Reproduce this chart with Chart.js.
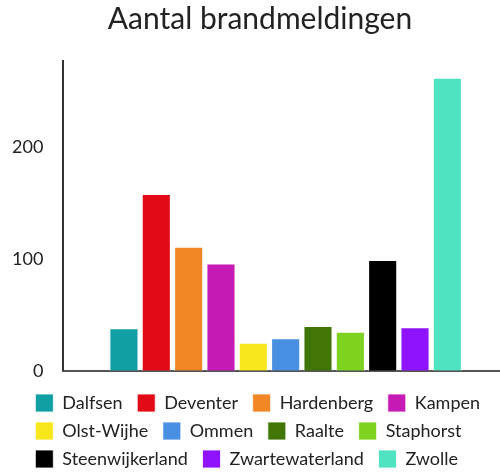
<!DOCTYPE html>
<html>
<head>
<meta charset="utf-8">
<script src="https://cdn.jsdelivr.net/npm/chart.js@4/dist/chart.umd.min.js"></script>
<style>
html,body{margin:0;padding:0;background:#fff;overflow:hidden;}
#wrap{width:520px;height:473px;position:relative;}
</style>
</head>
<body>
<div id="wrap"><canvas id="c"></canvas></div>
<script>
const titleText = "Aantal brandmeldingen";
const gemeenten = ["Dalfsen","Deventer","Hardenberg","Kampen","Olst-Wijhe","Ommen","Raalte","Staphorst","Steenwijkerland","Zwartewaterland","Zwolle"];
const meldingen = [38,158,111,96,25,29,40,35,99,39,262];
const kleuren = ["#109FA3","#E30A17","#F18624","#C51AB4","#F8E71C","#4A90E2","#417505","#7ED321","#000000","#9013FE","#50E3C2"];
const yTicks = [0,100,200];
const yMax = 277;

const datasets = gemeenten.map((g,i)=>({
  label: g,
  data: [meldingen[i]],
  backgroundColor: kleuren[i],
  borderColor: "rgba(255,255,255,0.8)",
  borderWidth: 1
}));

// centre title over the full canvas; align every legend row to where the
// first (widest) row starts when centred over the full canvas
const centreBlocks = {
  id: "centreBlocks",
  afterLayout(chart) {
    const t = chart.titleBlock;
    if (t) { t.left = 0; t.right = chart.width; t.width = chart.width; }
    const lg = chart.legend;
    if (!lg || !lg.lineWidths) return;
    const pad = lg.options.labels.padding;
    const w = lg.right - lg.left;
    lg.left = (chart.width - lg.lineWidths[0] - pad) / 2;
    lg.right = lg.left + w;
  }
};

Chart.defaults.font.family = "Lato";
Chart.defaults.color = "#222";

new Chart(document.getElementById("c"), {
  type: "bar",
  data: { labels: [""], datasets },
  options: {
    responsive: true,
    maintainAspectRatio: false,
    animation: false,
    layout: { padding: { left: 0, right: 12, top: 0, bottom: -5 } },
    plugins: {
      title: { display: true, text: titleText, font: { size: 30, weight: "normal" }, color: "#222", padding: { top: 1, bottom: 24 } },
      legend: {
        position: "bottom", align: "start",
        labels: {
          boxWidth: 18, boxHeight: 18, font: { size: 18 }, color: "#222", padding: 10,
          generateLabels: (chart) => Chart.defaults.plugins.legend.labels.generateLabels(chart).map(l => Object.assign(l, { text: l.text + " " }))
        }
      },
      tooltip: { enabled: false }
    },
    datasets: { bar: { barPercentage: 0.9, categoryPercentage: 0.8 } },
    scales: {
      x: {
        grid: { display: false, drawTicks: false },
        border: { display: true, color: "#555", width: 2 },
        ticks: { display: true, font: { size: 11 }, padding: 0 }
      },
      y: {
        min: 0, max: yMax,
        grid: { display: false },
        border: { display: true, color: "#333", width: 2 },
        ticks: { stepSize: 100, font: { size: 18 }, color: "#222", padding: 12 },
        afterBuildTicks: (s) => { s.ticks = yTicks.map(v => ({ value: v })); }
      }
    }
  },
  plugins: [centreBlocks]
});
</script>
</body>
</html>
